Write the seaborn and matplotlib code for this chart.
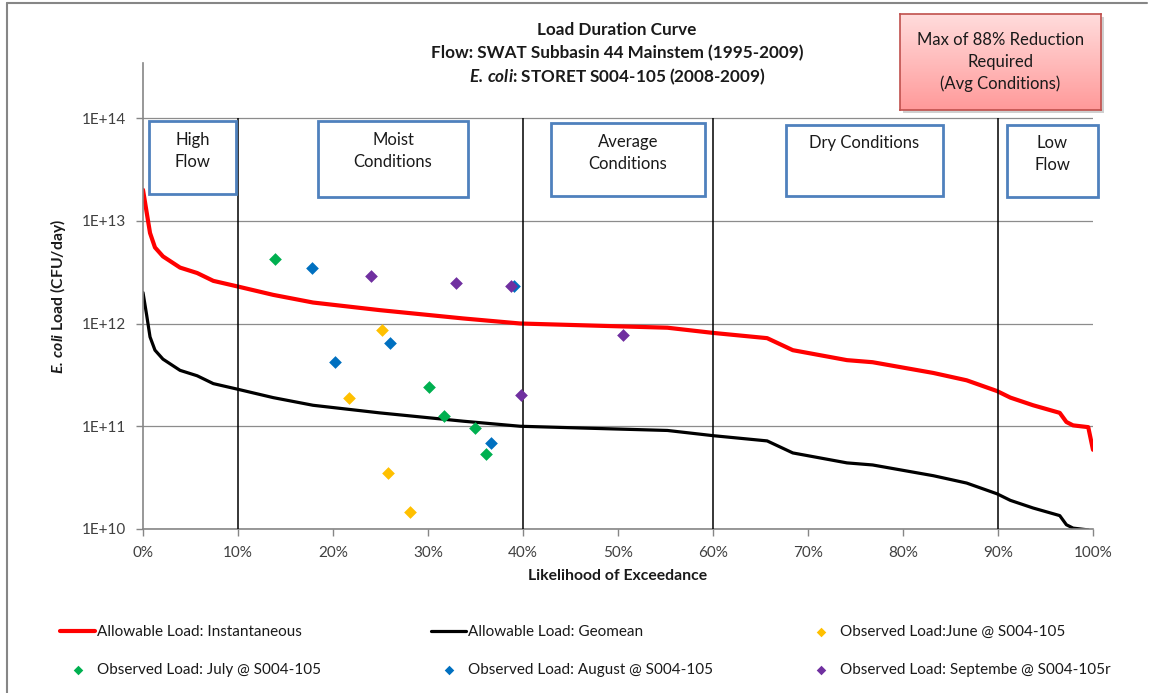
import numpy as np
import pandas as pd
import seaborn as sns
import matplotlib.pyplot as plt
from matplotlib.patches import Rectangle
from matplotlib.lines import Line2D
from matplotlib.colors import LinearSegmentedColormap
from matplotlib.ticker import FixedLocator, FuncFormatter, NullLocator

# ---------------- data ----------------
exceed_pct = [0, 0.39, 0.74, 1.26, 2.1, 3.9, 5.7, 7.4, 9.9, 13.7, 17.9, 24.9, 33.7, 39.7,
              48.1, 55.2, 60.0, 65.7, 68.4, 74.1, 76.8, 83.2, 86.7, 89.9, 91.3, 93.7,
              96.5, 97.2, 97.9, 99.5, 100]
load_inst = [2.0e13, 1.2e13, 7.6e12, 5.5e12, 4.5e12, 3.5e12, 3.1e12, 2.6e12, 2.3e12, 1.9e12,
             1.6e12, 1.35e12, 1.12e12, 1.0e12, 9.5e11, 9.1e11, 8.1e11, 7.2e11, 5.5e11,
             4.4e11, 4.2e11, 3.3e11, 2.8e11, 2.2e11, 1.9e11, 1.6e11, 1.35e11, 1.1e11,
             1.02e11, 9.8e10, 5.9e10]
load_geo = [2.0e12, 1.2e12, 7.4e11, 5.5e11, 4.5e11, 3.5e11, 3.1e11, 2.6e11, 2.3e11, 1.9e11,
            1.6e11, 1.35e11, 1.12e11, 1.0e11, 9.5e10, 9.1e10, 8.1e10, 7.2e10, 5.5e10,
            4.4e10, 4.2e10, 3.3e10, 2.8e10, 2.2e10, 1.9e10, 1.6e10, 1.35e10, 1.1e10,
            1.02e10, 9.8e9, 5.9e9]

june_x = [25.2, 21.7, 25.8, 28.1]
june_y = [8.7e11, 1.9e11, 3.5e10, 1.45e10]
july_x = [13.9, 30.1, 31.7, 34.9, 36.1]
july_y = [4.2e12, 2.4e11, 1.26e11, 9.6e10, 5.4e10]
aug_x = [17.8, 26.0, 20.2, 36.6, 39.0]
aug_y = [3.5e12, 6.5e11, 4.2e11, 6.9e10, 2.3e12]
sep_x = [24.0, 32.9, 38.7, 39.8, 50.5]
sep_y = [2.9e12, 2.5e12, 2.3e12, 2.0e11, 7.8e11]

zone_bounds = [10, 40, 60, 90]
zone_labels = ["High\nFlow", "Moist\nConditions", "Average\nConditions", "Dry Conditions", "Low\nFlow"]
y_ticks = [1e10, 1e11, 1e12, 1e13, 1e14]
x_ticks = [0, 10, 20, 30, 40, 50, 60, 70, 80, 90, 100]

# ---------------- style ----------------
sns.set_theme(style="white")
plt.rcParams['font.family'] = ['Lato', 'DejaVu Sans']
plt.rcParams['mathtext.fontset'] = 'custom'
plt.rcParams['mathtext.rm'] = 'Lato'
plt.rcParams['mathtext.it'] = 'Lato:italic'
plt.rcParams['mathtext.bf'] = 'Lato:bold'
plt.rcParams['mathtext.bfit'] = 'Lato:italic:bold'

W, H = 1153, 693
fig = plt.figure(figsize=(W / 100, H / 100), dpi=100)
fig.patch.set_facecolor('white')


def fx(x):
    return x / W


def fy(y):
    return 1 - y / H


ax = fig.add_axes([fx(143), fy(529), fx(1093) - fx(143), fy(63) - fy(529)])

curve = pd.DataFrame({'pct': exceed_pct, 'inst': load_inst, 'geo': load_geo})
sns.lineplot(data=curve, x='pct', y='inst', color='#FF0000', lw=3.0, ax=ax,
             label='Allowable Load: Instantaneous', sort=False, estimator=None)
sns.lineplot(data=curve, x='pct', y='geo', color='black', lw=2.3, ax=ax,
             label='Allowable Load: Geomean', sort=False, estimator=None)

obs = [(june_x, june_y, '#FFC000', 'Observed Load:June @ S004-105'),
       (july_x, july_y, '#00B050', 'Observed Load: July @ S004-105'),
       (aug_x, aug_y, '#0070C0', 'Observed Load: August @ S004-105'),
       (sep_x, sep_y, '#7030A0', 'Observed Load: Septembe @ S004-105r')]
for xs, ys, c, lab in obs:
    sns.scatterplot(x=xs, y=ys, marker='D', color=c, s=42, linewidth=0, ax=ax,
                    label=lab, zorder=5)

ax.set_yscale('log')
ax.set_xlim(0, 100)
ax.set_ylim(1e10, 10 ** (14 + 55 / 102.75))
ax.vlines(zone_bounds, 1e10, 1e14, color='black', lw=1.1, zorder=4)

ax.yaxis.set_major_locator(FixedLocator(y_ticks))
ax.yaxis.set_minor_locator(NullLocator())
ax.yaxis.set_major_formatter(FuncFormatter(lambda v, p: f"1E+{int(round(np.log10(v)))}"))
ax.xaxis.set_major_locator(FixedLocator(x_ticks))
ax.xaxis.set_major_formatter(FuncFormatter(lambda v, p: f"{int(v)}%"))
ax.tick_params(axis='both', which='major', direction='out', length=5, width=1,
               color='#868686', labelcolor='#404040', labelsize=11, pad=7,
               bottom=True, left=True)
ax.yaxis.grid(True, color='#8c8c8c', lw=0.9)
ax.xaxis.grid(False)
for s in ['top', 'right']:
    ax.spines[s].set_visible(False)
for s in ['left', 'bottom']:
    ax.spines[s].set_color('#868686')
    ax.spines[s].set_linewidth(1.2)
ax.set_xlabel('')
ax.set_ylabel('')

handles, labels = ax.get_legend_handles_labels()
ax.get_legend().remove()
hmap = dict(zip(labels, handles))

# legends: three columns, two rows
cols = [(60, ['Allowable Load: Instantaneous', 'Observed Load: July @ S004-105']),
        (431, ['Allowable Load: Geomean', 'Observed Load: August @ S004-105']),
        (803, ['Observed Load:June @ S004-105', 'Observed Load: Septembe @ S004-105r'])]
for x0, labs in cols:
    fig.legend([hmap[l] for l in labs], labs, loc='upper left',
               bbox_to_anchor=(fx(x0), fy(625)), bbox_transform=fig.transFigure,
               frameon=False, borderpad=0, borderaxespad=0, fontsize=11,
               handlelength=2.3, handletextpad=0.12, labelspacing=1.55,
               markerscale=0.75, labelcolor='#1a1a1a')

# titles
tkw = dict(ha='center', va='center', fontsize=12.3, fontweight='bold', color='#1a1a1a')
fig.text(fx(617), fy(30), 'Load Duration Curve', **tkw)
fig.text(fx(617), fy(53), 'Flow: SWAT Subbasin 44 Mainstem (1995-2009)', **tkw)
fig.text(fx(617), fy(77), r'$\mathbfit{E.\,coli}$: STORET S004-105 (2008-2009)', **tkw)
fig.text(fx(618), fy(576), 'Likelihood of Exceedance', ha='center', va='center',
         fontsize=11.3, fontweight='bold', color='#1a1a1a')
fig.text(fx(58), fy(296), r'$\mathbfit{E.\,coli}$ Load (CFU/day)', ha='center', va='center',
         rotation=90, fontsize=11.3, fontweight='bold', color='#1a1a1a')

# zone boxes
boxes = [(149, 121, 236, 194, 151), (318, 121, 468, 197, 151), (551, 123, 705, 196, 153),
         (786, 125, 943, 196, 143), (1007, 125, 1098, 197, 154)]
for (x0, y0, x1, y1, ty), lab in zip(boxes, zone_labels):
    fig.add_artist(Rectangle((fx(x0), fy(y1)), fx(x1) - fx(x0), fy(y0) - fy(y1),
                             transform=fig.transFigure, facecolor='white',
                             edgecolor='#4F81BD', lw=2, zorder=5))
    fig.text(fx((x0 + x1) / 2), fy(ty), lab, ha='center', va='center', fontsize=12,
             color='#1a1a1a', linespacing=1.5, zorder=6)

# red reduction box with gradient and shadow
fig.add_artist(Rectangle((fx(903), fy(113)), fx(1101) - fx(900), fy(14) - fy(110),
                         transform=fig.transFigure, facecolor='#b0b0b0', edgecolor='none',
                         alpha=0.6, zorder=4))
bax = fig.add_axes([fx(900), fy(110), fx(1101) - fx(900), fy(14) - fy(110)], zorder=5)
grad = np.linspace(0, 1, 100).reshape(-1, 1)
cmap = LinearSegmentedColormap.from_list('pinkgrad', ['#FFDCDC', '#FF9A9A'])
bax.imshow(grad, aspect='auto', cmap=cmap, extent=[0, 1, 1, 0])
bax.set_xticks([])
bax.set_yticks([])
for s in bax.spines.values():
    s.set_color('#C0504D')
    s.set_linewidth(1.2)
bax.text(0.5, 0.5, 'Max of 88% Reduction\nRequired\n(Avg Conditions)', ha='center',
         va='center', transform=bax.transAxes, fontsize=12, color='#1a1a1a', linespacing=1.45)

# outer frame
fig.add_artist(Line2D([fx(7), fx(7)], [fy(3), 0], transform=fig.transFigure,
                      color='#868686', lw=1.5))
fig.add_artist(Line2D([fx(7), fx(1147)], [fy(3), fy(3)], transform=fig.transFigure,
                      color='#868686', lw=1.5))

fig.savefig('out.png', dpi=100, facecolor='white')
